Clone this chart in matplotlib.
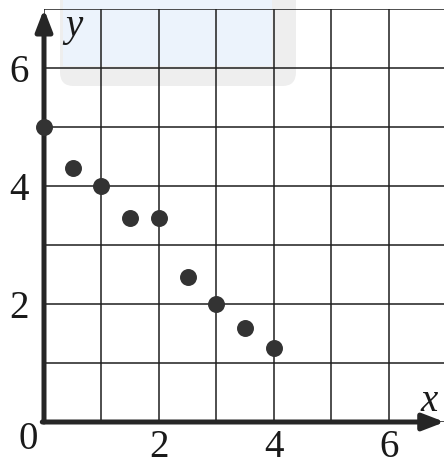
import matplotlib
matplotlib.use("Agg")
import matplotlib.pyplot as plt
from matplotlib.patches import FancyBboxPatch, Rectangle

plt.rcParams["font.family"] = ["Liberation Serif", "DejaVu Serif"]

# scatter points (x, y)
xs = [0, 0.5, 1, 1.5, 2, 2.5, 3, 3.5, 4]
ys = [5, 4.3, 4, 3.45, 3.45, 2.45, 2, 1.6, 1.25]

grid_x = [0, 1, 2, 3, 4, 5, 6]
grid_y = [0, 1, 2, 3, 4, 5, 6, 7]
labelled = [2, 4, 6]

W, H = 444, 466
fig = plt.figure(figsize=(W / 100, H / 100), dpi=100)
fig.patch.set_facecolor("white")

ux, uy = 57.33, 59.0
ax = fig.add_axes([44 / W, 44 / H, 7 * ux / W, 7 * uy / H])
ax.set_facecolor("none")
ax.set_xlim(0, 6.98)
ax.set_ylim(0, 7)
for s in ax.spines.values():
    s.set_visible(False)

# faint badge behind the top of the grid
ax.add_patch(FancyBboxPatch((60 / W, 1 - 86 / H), 236 / W, 100 / H,
                            boxstyle="round,pad=0,rounding_size=0.03",
                            transform=fig.transFigure, fc="#eeeeee",
                            ec="none", zorder=0.2, clip_on=False))
ax.add_patch(Rectangle((63 / W, 1 - 66 / H), 209 / W, 70 / H,
                       transform=fig.transFigure, fc="#ecf3fc",
                       ec="none", zorder=0.3, clip_on=False))

ax.set_xticks(grid_x)
ax.set_yticks(grid_y)
ax.set_xticklabels([str(v) if v in labelled else "" for v in grid_x])
ax.set_yticklabels([str(v) if v in labelled else "" for v in grid_y])
ax.tick_params(length=0, labelsize=28, colors="#1a1a1a")
ax.tick_params(axis="x", pad=5)
ax.tick_params(axis="y", pad=11)
ax.grid(True, color="#1e1e1e", lw=1.1)

# axes with arrow heads
arrow = dict(arrowstyle="-|>,head_length=1.3,head_width=0.5", lw=3.6,
             color="#262626", shrinkA=0, shrinkB=0, mutation_scale=10)
ax.annotate("", xy=(0, 7.0), xytext=(0, 0), arrowprops=arrow,
            annotation_clip=False, zorder=4)
ax.annotate("", xy=(6.97, 0), xytext=(-0.03, 0), arrowprops=arrow,
            annotation_clip=False, zorder=4)

ax.scatter(xs, ys, s=125, color="#333333", zorder=5, clip_on=False)

ax.text(-0.27, -0.3, "0", fontsize=28, color="#1a1a1a",
        ha="center", va="center")
ax.text(0.52, 6.7, "y", fontsize=28, style="italic",
        color="#1a1a1a", ha="center", va="center", zorder=6)
ax.text(6.7, 0.35, "x", fontsize=28, style="italic",
        color="#1a1a1a", ha="center", va="center", zorder=6)

fig.savefig("out.png", dpi=100)
